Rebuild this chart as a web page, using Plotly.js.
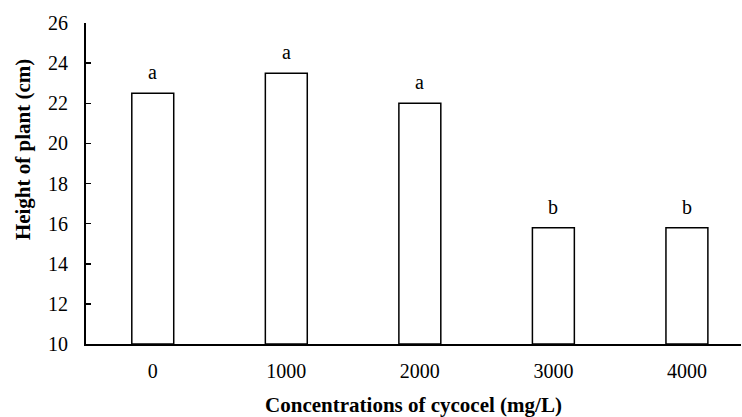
<!DOCTYPE html>
<html><head><meta charset="utf-8">
<script src="https://cdn.plot.ly/plotly-3.0.1.min.js"></script>
<style>html,body{margin:0;padding:0;background:#fff}</style>
</head><body><div id="chart" style="width:742px;height:417px"></div>
<script>
const categories = ["0", "1000", "2000", "3000", "4000"];
const heights = [22.5, 23.5, 22.0, 15.8, 15.8];
const letters = ["a", "a", "a", "b", "b"];
const yTicks = [10, 12, 14, 16, 18, 20, 22, 24, 26];
const yTitle = "<b>Height of plant (cm)</b>";
const xTitle = "<b>Concentrations of cycocel (mg/L)</b>";

const font = {family: "Liberation Serif", color: "#000"};

const trace = {
  type: "bar",
  x: categories,
  y: heights.map(v => v - 10),
  base: 10,
  marker: {color: "#fff", line: {color: "#000", width: 1.5}},
  hoverinfo: "skip"
};

const annotations = categories.map((c, i) => ({
  x: i, y: heights[i], xref: "x", yref: "y",
  text: letters[i], showarrow: false, yanchor: "bottom", yshift: 8,
  font: Object.assign({}, font, {size: 20})
}));
annotations.push({
  xref: "paper", yref: "paper", x: 0, y: 0.604, xshift: -63,
  xanchor: "center", yanchor: "middle", textangle: -90,
  text: yTitle, showarrow: false,
  font: Object.assign({}, font, {size: 21})
});

Plotly.newPlot("chart", [trace], {
  width: 742, height: 417,
  margin: {l: 86, r: 1, t: 23, b: 73},
  paper_bgcolor: "#fff", plot_bgcolor: "#fff",
  bargap: 0.686,
  showlegend: false,
  font: font,
  xaxis: {
    type: "category",
    range: [-0.5, 4.405],
    showline: true, linecolor: "#000", linewidth: 2,
    ticks: "", showgrid: false, zeroline: false,
    tickfont: Object.assign({}, font, {size: 20}),
    ticklabelstandoff: 8,
    title: {text: xTitle, font: Object.assign({}, font, {size: 21}), standoff: 16}
  },
  yaxis: {
    range: [10, 26],
    tickvals: yTicks,
    showline: true, linecolor: "#000", linewidth: 2,
    ticks: "inside", ticklen: 5, tickwidth: 1.5, tickcolor: "#000",
    showgrid: false, zeroline: false,
    tickfont: Object.assign({}, font, {size: 20}),
    ticklabelstandoff: 12
  },
  annotations: annotations
}, {displayModeBar: false, staticPlot: true});
</script></body></html>
